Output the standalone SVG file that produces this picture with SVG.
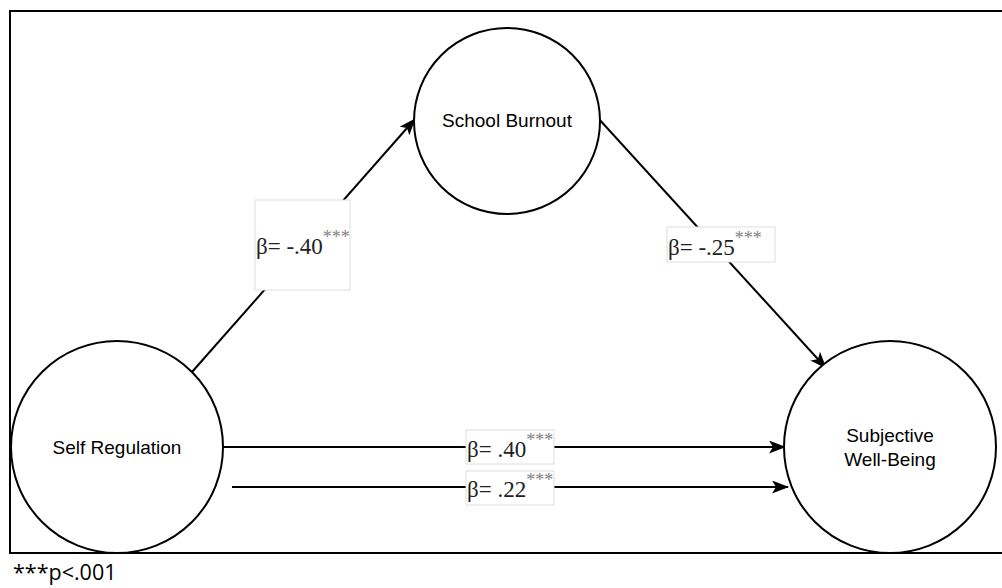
<svg xmlns="http://www.w3.org/2000/svg" width="1002" height="588" viewBox="0 0 1002 588">
<style>
.node{fill:#fff;stroke:#000;stroke-width:2}
.lbl{font-family:"Liberation Sans",Arial,sans-serif;font-size:19px;fill:#000;text-anchor:middle}
.edge{stroke:#000;stroke-width:2;fill:none}
.box{fill:#fff;stroke:#dedede;stroke-width:1}
.beta{font-family:"Liberation Serif","Times New Roman",serif;font-size:23px;fill:#222}
.sup{font-family:"Liberation Serif","Times New Roman",serif;font-size:18px;fill:#808080}
.note{font-family:"Open Sans","Noto Sans",sans-serif;font-size:21.5px;fill:#000}
</style>
<defs>
<marker id="ah" markerWidth="17" markerHeight="13" refX="16" refY="6.5" orient="auto" markerUnits="userSpaceOnUse">
<path d="M0,0 L17,6.5 L0,13 L4,6.5 Z" fill="#000"/>
</marker>
</defs>
<rect x="0" y="0" width="1002" height="588" fill="#fff"/>
<path d="M1004,11 H10 V553 H1004" fill="none" stroke="#000" stroke-width="2"/>
<g id="connectors">
<line class="edge" x1="192" y1="372" x2="415" y2="119" marker-end="url(#ah)"/>
<line class="edge" x1="598" y1="118" x2="826" y2="368" marker-end="url(#ah)"/>
<line class="edge" x1="224" y1="447" x2="785" y2="447" marker-end="url(#ah)"/>
<line class="edge" x1="232" y1="487" x2="788" y2="487" marker-end="url(#ah)"/>
</g>
<g id="node-school-burnout">
<circle class="node" cx="507" cy="121" r="93"/>
<text class="lbl" x="507" y="127">School Burnout</text>
</g>
<g id="node-self-regulation">
<circle class="node" cx="117" cy="447" r="106"/>
<text class="lbl" x="117" y="454">Self Regulation</text>
</g>
<g id="node-subjective-well-being">
<circle class="node" cx="890" cy="447" r="106"/>
<text class="lbl" x="890" y="442">Subjective</text>
<text class="lbl" x="890" y="466">Well-Being</text>
</g>
<g id="label-1">
<rect class="box" x="255" y="200" width="95" height="90"/>
<text x="256" y="254"><tspan class="beta">β= -.40</tspan><tspan class="sup" dy="-11">***</tspan></text>
</g>
<g id="label-2">
<rect class="box" x="667" y="227" width="108" height="35"/>
<text x="668" y="255"><tspan class="beta">β= -.25</tspan><tspan class="sup" dy="-11">***</tspan></text>
</g>
<g id="label-3">
<rect class="box" x="466" y="430" width="88" height="34"/>
<text x="467" y="457"><tspan class="beta">β= .40</tspan><tspan class="sup" dy="-11">***</tspan></text>
</g>
<g id="label-4">
<rect class="box" x="466" y="471" width="88" height="34"/>
<text x="467" y="497"><tspan class="beta">β= .22</tspan><tspan class="sup" dy="-11">***</tspan></text>
</g>
<text class="note" x="13" y="580">***p&lt;.001</text>
</svg>
